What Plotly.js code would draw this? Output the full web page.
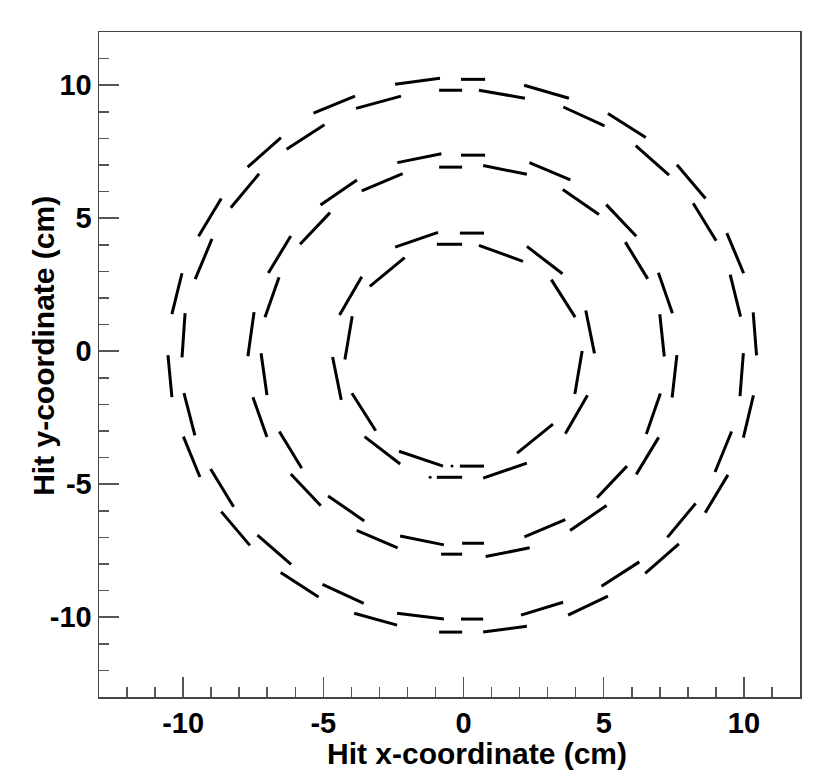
<!DOCTYPE html>
<html>
<head>
<meta charset="utf-8">
<script src="https://cdn.plot.ly/plotly-3.0.1.min.js"></script>
<style>html,body{margin:0;padding:0;background:#fff;}#chart{width:830px;height:783px;}</style>
</head>
<body>
<div id="chart"></div>
<script>
// Hit segments (x, y in cm); segments separated by null
const innerX = [-2.44,-0.91,null,-0.95,-0.05,null,-0.13,0.73,null,0.55,2.12,null,2.26,3.53,null,
  3.13,3.98,null,4.36,4.67,null,4.23,3.97,null,4.42,3.63,null,3.19,1.91,null,
  2.26,0.70,null,0.73,-0.13,null,-0.05,-0.95,null,-0.73,-2.30,null,-2.26,-3.53,null,
  -3.13,-3.98,null,-4.36,-4.67,null,-4.23,-3.97,null,-4.42,-3.63,null,-3.34,-2.10];
const innerY = [3.91,4.47,null,4.02,4.02,null,4.44,4.44,null,3.98,3.38,null,3.94,2.91,null,
  2.69,1.28,null,1.53,-0.08,null,0.01,-1.61,null,-1.66,-3.10,null,-2.74,-3.83,null,
  -4.21,-4.77,null,-4.32,-4.32,null,-4.74,-4.74,null,-4.32,-3.76,null,-4.24,-3.21,null,
  -2.99,-1.58,null,-1.83,-0.22,null,-0.31,1.31,null,1.36,2.80,null,2.44,3.52];

const middleX = [-2.36,-0.79,null,-0.87,-0.05,null,-0.09,0.77,null,0.70,2.26,null,2.35,3.81,null,
  3.54,4.83,null,5.09,6.16,null,5.77,6.57,null,6.95,7.45,null,7.00,7.16,null,
  7.61,7.44,null,7.02,6.52,null,6.96,6.16,null,5.83,4.76,null,5.10,3.80,null,
  3.63,2.17,null,2.36,0.79,null,0.73,-0.05,null,-0.05,-0.80,null,-0.70,-2.26,null,
  -2.35,-3.81,null,-3.54,-4.83,null,-5.09,-6.16,null,-5.77,-6.57,null,-7.01,-7.51,null,
  -7.01,-7.22,null,-7.69,-7.47,null,-7.08,-6.58,null,-6.96,-6.16,null,-5.83,-4.76,null,
  -5.10,-3.80,null,-3.63,-2.17];
const middleY = [7.09,7.42,null,6.92,6.92,null,7.37,7.37,null,6.98,6.65,null,7.09,6.44,null,
  6.08,5.14,null,5.51,4.32,null,4.10,2.72,null,2.95,1.43,null,1.39,-0.20,null,
  -0.15,-1.74,null,-1.59,-3.11,null,-3.24,-4.63,null,-4.32,-5.51,null,-5.80,-6.74,null,
  -6.33,-6.98,null,-7.39,-7.72,null,-7.22,-7.22,null,-7.63,-7.63,null,-7.28,-6.95,null,
  -7.39,-6.74,null,-6.38,-5.44,null,-5.81,-4.62,null,-4.40,-3.02,null,-3.23,-1.73,null,
  -1.65,-0.08,null,-0.19,1.47,null,1.28,2.78,null,2.94,4.33,null,4.02,5.21,null,
  5.50,6.44,null,6.03,6.68];

const outerX = [-2.44,-0.84,null,-0.87,-0.05,null,-0.09,0.77,null,0.55,2.19,null,2.16,3.76,null,
  3.56,5.03,null,5.15,6.50,null,6.14,7.33,null,7.61,8.63,null,8.19,9.01,null,
  9.39,9.99,null,9.51,9.88,null,10.33,10.45,null,9.98,9.86,null,10.34,9.98,null,
  9.56,8.97,null,9.43,8.62,null,8.28,7.27,null,7.68,6.48,null,6.27,4.92,null,
  5.15,3.73,null,3.55,2.05,null,2.26,0.70,null,0.70,-0.09,null,-0.05,-0.87,null,
  -0.70,-2.37,null,-2.37,-3.90,null,-3.56,-5.03,null,-5.17,-6.52,null,-6.15,-7.35,null,
  -7.62,-8.64,null,-8.20,-9.02,null,-9.40,-9.99,null,-9.58,-9.97,null,-10.40,-10.54,null,
  -10.04,-9.93,null,-10.40,-10.04,null,-9.57,-8.97,null,-9.45,-8.64,null,-8.30,-7.29,null,
  -7.70,-6.51,null,-6.31,-4.96,null,-5.35,-3.87,null,-3.83,-2.23];
const outerY = [10.04,10.26,null,9.81,9.81,null,10.22,10.22,null,9.81,9.51,null,10.0,9.51,null,
  9.18,8.47,null,8.94,8.03,null,7.73,6.62,null,7.01,5.74,null,5.56,4.15,null,
  4.44,2.93,null,2.88,1.30,null,1.46,-0.16,null,-0.07,-1.69,null,-1.66,-3.25,null,
  -3.02,-4.54,null,-4.65,-6.07,null,-5.72,-7.00,null,-7.24,-8.35,null,-7.92,-8.84,null,
  -9.21,-9.92,null,-9.44,-9.92,null,-10.34,-10.56,null,-10.07,-10.07,null,-10.56,-10.56,null,
  -10.07,-9.85,null,-10.30,-9.85,null,-9.48,-8.77,null,-9.24,-8.32,null,-8.01,-6.91,null,
  -7.30,-6.03,null,-5.85,-4.43,null,-4.73,-3.21,null,-3.16,-1.58,null,-1.73,-0.15,null,
  -0.23,1.43,null,1.39,2.93,null,2.71,4.22,null,4.32,5.74,null,5.39,6.67,null,
  6.92,8.03,null,7.59,8.51,null,8.95,9.59,null,9.13,9.59];

const strayX = [-0.41,-1.19];
const strayY = [-4.32,-4.74];

const tickVals = [-10,-5,0,5,10];
const tickText = ['-10','-5','0','5','10'];
const xTitle = 'Hit x-coordinate (cm)';
const yTitle = 'Hit y-coordinate (cm)';

const seg = {type:'scatter', mode:'lines', line:{color:'#000', width:3}, hoverinfo:'skip', showlegend:false, connectgaps:false};
const data = [
  Object.assign({x: innerX, y: innerY}, seg),
  Object.assign({x: middleX, y: middleY}, seg),
  Object.assign({x: outerX, y: outerY}, seg),
  {x: strayX, y: strayY, type:'scatter', mode:'markers', marker:{color:'#000', size:3}, showlegend:false}
];
const fontFam = 'Liberation Sans, Arial, Helvetica, sans-serif';
const tickFont = {family:fontFam, size:29, color:'#000', weight:'bold'};
const axisCommon = {
  tickmode:'array', tickvals: tickVals, ticktext: tickText,
  ticks:'inside', ticklen:20, tickwidth:1.5, tickcolor:'#555',
  minor:{dtick:1, tick0:0, ticks:'inside', ticklen:10, tickwidth:1.5, tickcolor:'#555'},
  showline:true, mirror:true, linecolor:'#444', linewidth:1.5,
  showgrid:false, zeroline:false, tickfont: tickFont, fixedrange:true
};
const layout = {
  width:830, height:783,
  margin:{l:99, r:30, t:32, b:86},
  paper_bgcolor:'#fff', plot_bgcolor:'#fff',
  xaxis: Object.assign({range:[-13,12]}, axisCommon),
  yaxis: Object.assign({range:[-13,12]}, axisCommon),
  annotations:[
    {text:xTitle, xref:'paper', yref:'paper', x:0.539, y:-0.0857, xanchor:'center', yanchor:'middle', showarrow:false,
     font:{family:fontFam, size:30, color:'#000', weight:'bold'}},
    {text:yTitle, xref:'paper', yref:'paper', x:-0.0785, y:0.528, xanchor:'center', yanchor:'middle', textangle:-90, showarrow:false,
     font:{family:fontFam, size:30, color:'#000', weight:'bold'}}
  ]
};
Plotly.newPlot('chart', data, layout, {staticPlot:true});
</script>
</body>
</html>
